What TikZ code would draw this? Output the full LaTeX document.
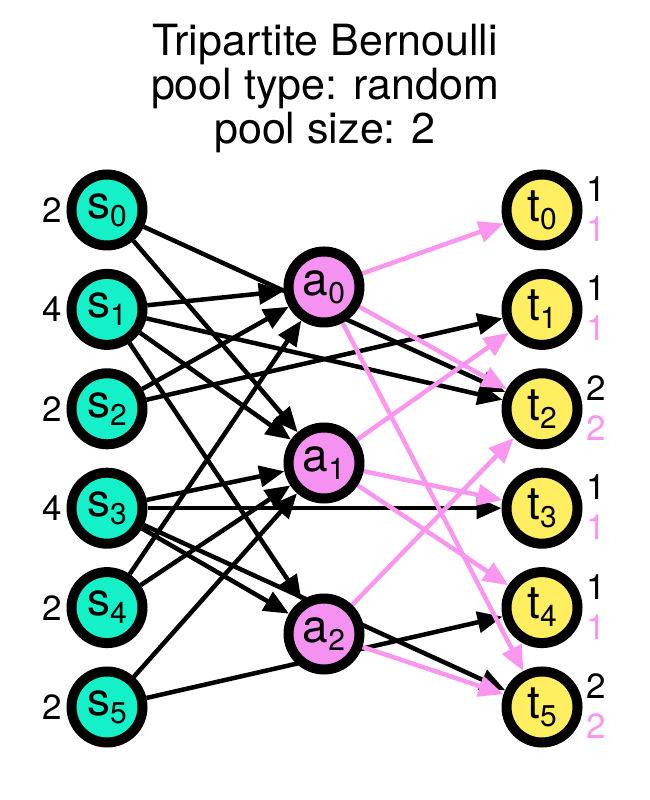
\documentclass[tikz,border=0pt]{standalone}
\usepackage{fontspec}
\setmainfont{TeX Gyre Heros}
\usetikzlibrary{positioning, arrows.meta, backgrounds}
\definecolor{sgreen}{RGB}{20,240,200}
\definecolor{apink}{RGB}{245,145,240}
\definecolor{tyellow}{RGB}{255,238,95}
\definecolor{epink}{RGB}{250,150,240}
\newcommand{\sub}[1]{\raisebox{-8pt}{\fontsize{30}{30}\selectfont #1}}

\begin{document}
\begin{tikzpicture}[
  x=1pt, y=1pt,
  >={Triangle[length=25pt, width=21pt]},
  every node/.style={font=\fontsize{35}{38}\selectfont, inner sep=0pt},
  vert/.style = {circle, draw=black, line width=10pt, minimum size=71pt, font=\fontsize{46}{48}\selectfont},
  src/.style  = {vert, fill=sgreen},
  mid/.style  = {vert, fill=apink},
  tgt/.style  = {vert, fill=tyellow},
  num/.style  = {text=black},
  pnum/.style = {text=epink},
  arr/.style  = {->, line width=4.5pt, black},
  parr/.style = {->, line width=4.5pt, epink},
]
  \useasboundingbox (0,0) rectangle (650,800);
  \node[font=\fontsize{43}{44}\selectfont, align=center, anchor=north] (title) at (325,776)
        {Tripartite Bernoulli\\pool type: random\\pool size: 2};
  % sources
  \node[src]                        (s0) at (107,590) {s\sub{0}};
  \node[src, below=18.4pt of s0]    (s1) {s\sub{1}};
  \node[src, below=18.4pt of s1]    (s2) {s\sub{2}};
  \node[src, below=18.4pt of s2]    (s3) {s\sub{3}};
  \node[src, below=18.4pt of s3]    (s4) {s\sub{4}};
  \node[src, below=18.4pt of s4]    (s5) {s\sub{5}};
  % pool
  \node[mid] (a0) at (324,513) {a\sub{0}};
  \node[mid] (a1) at (324,337) {a\sub{1}};
  \node[mid] (a2) at (324,166) {a\sub{2}};
  % targets
  \node[tgt]                        (t0) at (542,590) {t\sub{0}};
  \node[tgt, below=18.4pt of t0]    (t1) {t\sub{1}};
  \node[tgt, below=18.4pt of t1]    (t2) {t\sub{2}};
  \node[tgt, below=18.4pt of t2]    (t3) {t\sub{3}};
  \node[tgt, below=18.4pt of t3]    (t4) {t\sub{4}};
  \node[tgt, below=18.4pt of t4]    (t5) {t\sub{5}};
  % source degrees
  \node[num, left=4pt of s0] (ds0) {2};
  \node[num, left=4pt of s1] (ds1) {4};
  \node[num, left=4pt of s2] (ds2) {2};
  \node[num, left=4pt of s3] (ds3) {4};
  \node[num, left=4pt of s4] (ds4) {2};
  \node[num, left=4pt of s5] (ds5) {2};
  % target counts
  \node[num,  anchor=west] (dt0) at ([shift={(4pt,21pt)}]t0.east)  {1};
  \node[pnum, anchor=west] (pt0) at ([shift={(4pt,-19pt)}]t0.east) {1};
  \node[num,  anchor=west] (dt1) at ([shift={(4pt,21pt)}]t1.east)  {1};
  \node[pnum, anchor=west] (pt1) at ([shift={(4pt,-19pt)}]t1.east) {1};
  \node[num,  anchor=west] (dt2) at ([shift={(4pt,21pt)}]t2.east)  {2};
  \node[pnum, anchor=west] (pt2) at ([shift={(4pt,-19pt)}]t2.east) {2};
  \node[num,  anchor=west] (dt3) at ([shift={(4pt,21pt)}]t3.east)  {1};
  \node[pnum, anchor=west] (pt3) at ([shift={(4pt,-19pt)}]t3.east) {1};
  \node[num,  anchor=west] (dt4) at ([shift={(4pt,21pt)}]t4.east)  {1};
  \node[pnum, anchor=west] (pt4) at ([shift={(4pt,-19pt)}]t4.east) {1};
  \node[num,  anchor=west] (dt5) at ([shift={(4pt,21pt)}]t5.east)  {2};
  \node[pnum, anchor=west] (pt5) at ([shift={(4pt,-19pt)}]t5.east) {2};
  \begin{scope}[on background layer]
    \draw[arr] (s0) -- (a1);
    \draw[arr] (s0) -- (t2);
    \draw[arr] (s1) -- (a0);
    \draw[arr] (s1) -- (a1);
    \draw[arr] (s1) -- (a2);
    \draw[arr] (s1) -- (t2);
    \draw[arr] (s2) -- (a0);
    \draw[arr] (s2) -- (t1);
    \draw[arr] (s3) -- (a1);
    \draw[arr] (s3) -- (a2);
    \draw[arr] (s3) -- (t3);
    \draw[arr] (s3) -- (t5);
    \draw[arr] (s4) -- (a0);
    \draw[arr] (s4) -- (a1);
    \draw[arr] (s5) -- (a1);
    \draw[arr] (s5) -- (t4);
    \draw[parr] (a0) -- (t0);
    \draw[parr] (a0) -- (t2);
    \draw[parr] (a0) -- (t5);
    \draw[parr] (a1) -- (t1);
    \draw[parr] (a1) -- (t3);
    \draw[parr] (a1) -- (t4);
    \draw[parr] (a2) -- (t2);
    \draw[parr] (a2) -- (t5);
  \end{scope}
\end{tikzpicture}
\end{document}
